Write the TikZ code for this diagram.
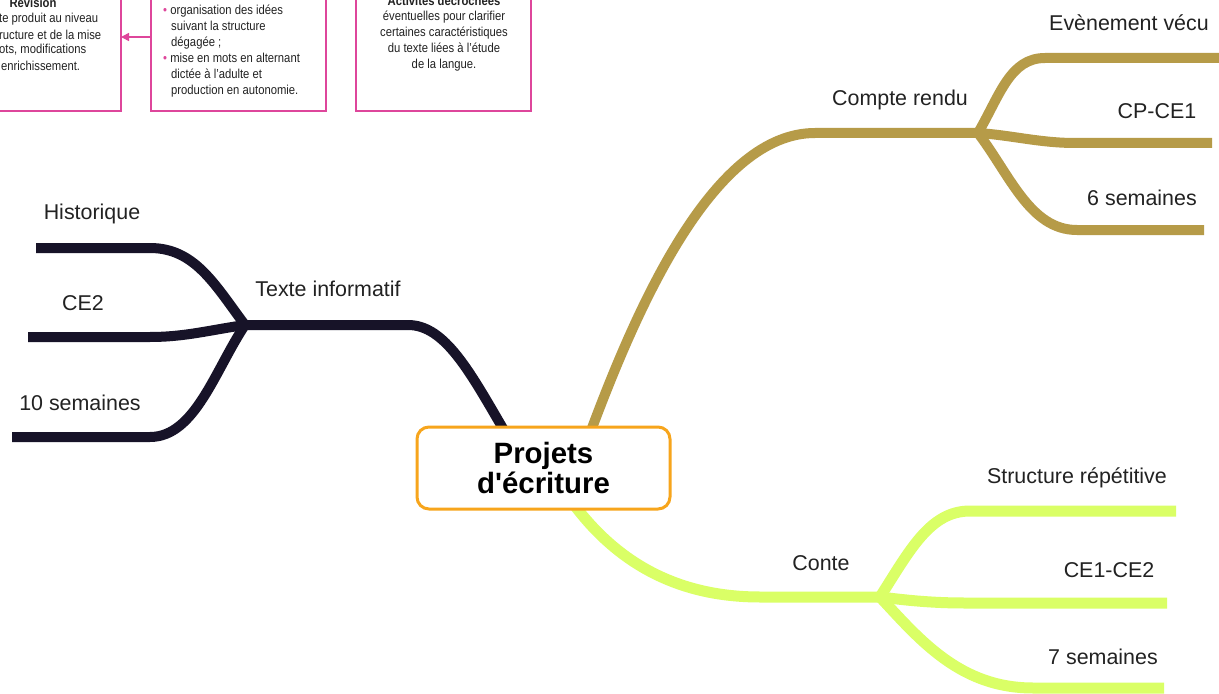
\documentclass[tikz,border=0pt]{standalone}
\usepackage{fontspec}
\setmainfont{Liberation Sans}
\newfontfamily\narrowfont[FakeStretch=0.87]{Liberation Sans}
\newfontfamily\rootfont[Ligatures=TeXOff]{Liberation Sans}
\usetikzlibrary{arrows.meta}
\definecolor{pinkline}{RGB}{222,70,155}
\definecolor{darkbr}{RGB}{23,19,40}
\definecolor{goldbr}{RGB}{182,155,72}
\definecolor{limebr}{RGB}{218,255,102}
\definecolor{rootor}{RGB}{247,165,28}
\definecolor{txt}{RGB}{34,34,34}
\tikzset{
  lbl/.style={font=\fontsize{21.5}{24}\selectfont, text=txt, inner sep=0pt},
  small/.style={font=\narrowfont\fontsize{13}{16}\selectfont, text=txt, inner sep=0pt},
  pinkbox/.style={draw=pinkline, line width=1.6bp},
  brdark/.style={draw=darkbr, line width=10bp, line cap=butt, line join=round},
  brgold/.style={draw=goldbr, line width=10bp, line cap=butt, line join=round},
  brlime/.style={draw=limebr, line width=11bp, line cap=butt, line join=round},
  rootbox/.style={draw=rootor, line width=3bp, rounded corners=12bp, fill=white,
    minimum width=253bp, minimum height=82bp, align=center,
    font=\rootfont\fontsize{29.5}{31}\selectfont\bfseries, text=black}
}
\begin{document}
\begin{tikzpicture}[x=1bp,y=-1bp]
\useasboundingbox (0,0) rectangle (1219,694);
\fill[white] (0,0) rectangle (1219,694);

% ---- pink boxes (cropped) ----
\draw[pinkbox] (-60,-20) -- (-60,111) -- (121,111) -- (121,-20);
\draw[pinkbox] (151,-20) rectangle (326,111);
\draw[pinkbox] (356,-20) rectangle (531,111);
\coordinate (b1r) at (121,37);
\coordinate (b2l) at (151,37);
\draw[pinkline, line width=1.6bp, -{Triangle[length=8bp,width=8bp]}] (b2l) -- (b1r);

\node[small, font=\narrowfont\fontsize{13}{16}\selectfont\bfseries] (b1h) at (33,3) {Révision};
\node[small, anchor=west] (b1a) at (-1,19) {te produit au niveau};
\node[small, anchor=west] (b1b) at (-1,35) {ructure et de la mise};
\node[small, anchor=west] (b1c) at (-1,50) {ots, modifications};
\node[small, anchor=west] (b1d) at (1,66) {enrichissement.};

\node[small, anchor=north west, align=left] (b2t) at (163,5) {%
\textcolor{pinkline}{\textbullet}\ organisation des idées\\
\hspace*{8bp}suivant la structure\\
\hspace*{8bp}dégagée ;\\
\textcolor{pinkline}{\textbullet}\ mise en mots en alternant\\
\hspace*{8bp}dictée à l’adulte et\\
\hspace*{8bp}production en autonomie.};

\node[small, font=\narrowfont\fontsize{13}{16}\selectfont\bfseries] (b3h) at (444,1) {Activités décrochées};
\node[small, anchor=north, align=center] (b3t) at (444,11) {éventuelles pour clarifier\\certaines caractéristiques\\du texte liées à l’étude\\de la langue.};

% ---- coordinates ----
\coordinate (rd) at (505,432);
\coordinate (rg) at (592,428);
\coordinate (rl) at (575,506);
\coordinate (jd) at (245,325);
\coordinate (jg) at (978,133);
\coordinate (jl) at (880,597);
\coordinate (d1) at (36,248);
\coordinate (d2) at (28,337);
\coordinate (d3) at (12,437);
\coordinate (g1) at (1222,58);
\coordinate (g2) at (1212,143);
\coordinate (g3) at (1204,230);
\coordinate (l1) at (1176,511);
\coordinate (l2) at (1167,603);
\coordinate (l3) at (1164,688);

% ---- dark branch ----
\draw[brdark] (rd) .. controls (470,372) and (445,325) .. (408,325) -- (jd);
\draw[brdark] (jd) .. controls (215,285) and (195,248) .. (150,248) -- (d1);
\draw[brdark] (jd) .. controls (210,330) and (185,337) .. (150,337) -- (d2);
\draw[brdark] (jd) .. controls (215,370) and (195,437) .. (150,437) -- (d3);

% ---- gold branch ----
\draw[brgold] (rg) .. controls (640,300) and (715,133) .. (815,133) -- (jg);
\draw[brgold] (jg) .. controls (1000,95) and (1010,58) .. (1045,58) -- (g1);
\draw[brgold] (jg) .. controls (1010,135) and (1040,143) .. (1075,143) -- (g2);
\draw[brgold] (jg) .. controls (1010,175) and (1030,230) .. (1077,230) -- (g3);

% ---- lime branch ----
\draw[brlime] (rl) .. controls (620,565) and (680,597) .. (760,597) -- (jl);
\draw[brlime] (jl) .. controls (910,550) and (930,511) .. (970,511) -- (l1);
\draw[brlime] (jl) .. controls (905,600) and (930,603) .. (965,603) -- (l2);
\draw[brlime] (jl) .. controls (920,640) and (960,688) .. (1033,688) -- (l3);

% ---- root ----
\node[rootbox] (root) at (543.5,468) {Projets\\d'écriture};

% ---- labels ----
\node[lbl] (ti) at (328,289) {Texte informatif};
\node[lbl] (hist) at (92,214) {Historique};
\node[lbl] (ce2) at (83,303) {CE2};
\node[lbl] (s10) at (80,403) {10 semaines};
\node[lbl] (cr) at (900,100) {Compte rendu};
\node[lbl] (ev) at (1129,23) {Evènement vécu};
\node[lbl] (cpce1) at (1157,111) {CP-CE1};
\node[lbl] (s6) at (1142,198) {6 semaines};
\node[lbl] (conte) at (821,563) {Conte};
\node[lbl] (strr) at (1077,478) {Structure répétitive};
\node[lbl] (ce1ce2) at (1109,570) {CE1-CE2};
\node[lbl] (s7) at (1103,657) {7 semaines};
\end{tikzpicture}
\end{document}
